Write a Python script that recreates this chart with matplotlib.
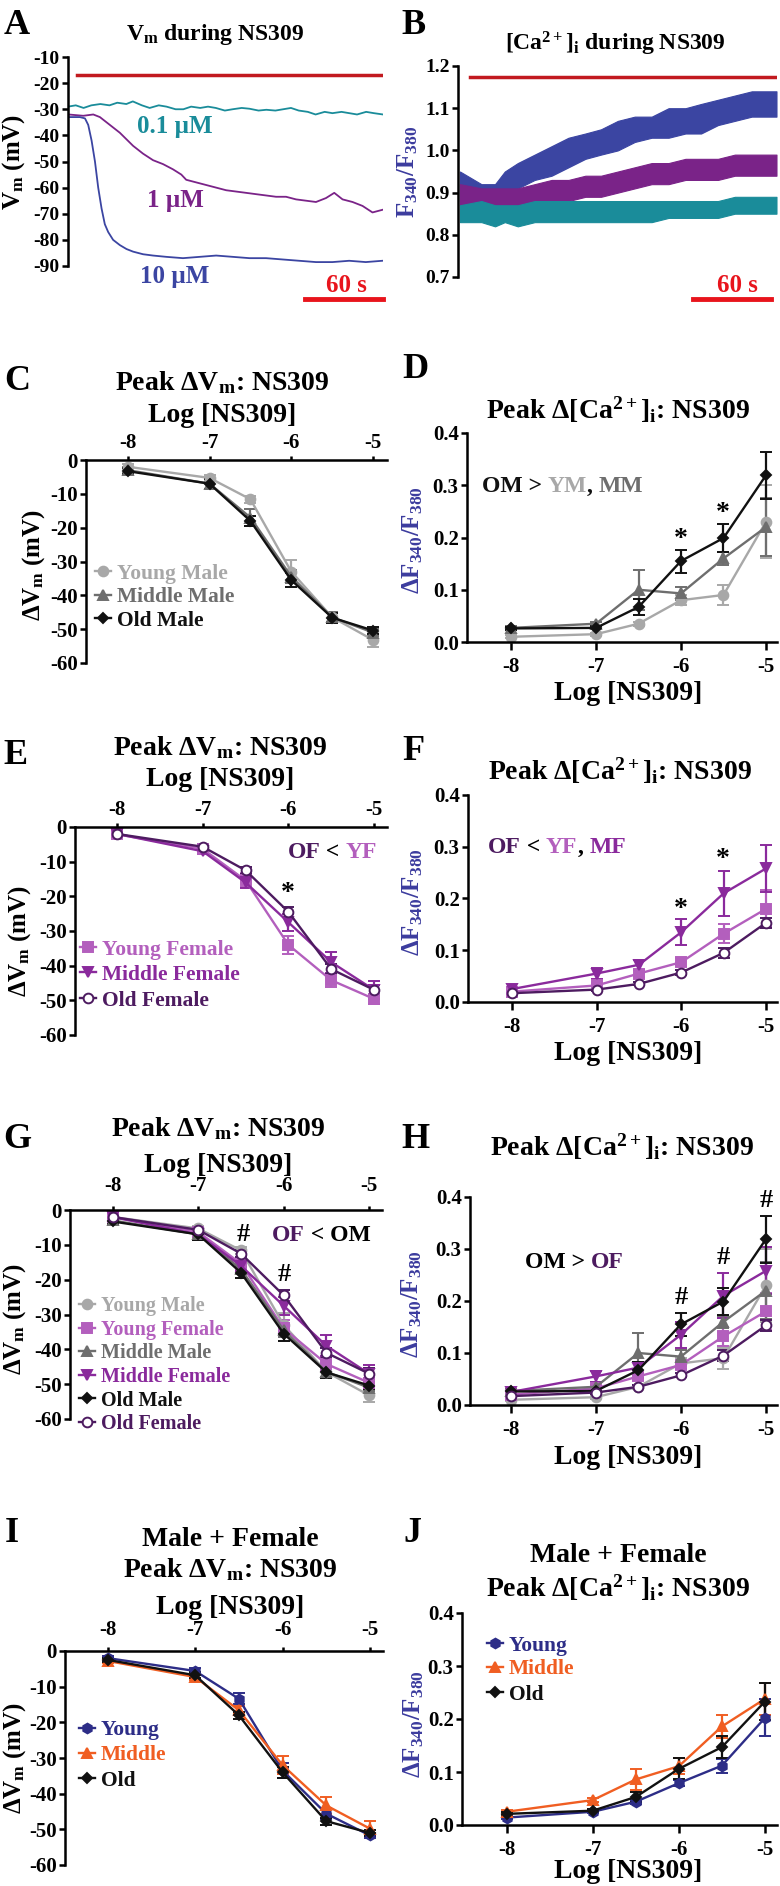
import matplotlib
matplotlib.use("Agg")
import matplotlib.pyplot as plt

W, H = 780, 1886

plt.rcParams.update({
    "font.family": "Liberation Serif",
    "font.weight": "bold",
    "mathtext.fontset": "custom",
    "mathtext.rm": "Liberation Serif:bold",
    "mathtext.it": "Liberation Serif:bold",
    "mathtext.bf": "Liberation Serif:bold",
    "axes.unicode_minus": False,
    "axes.linewidth": 1.8,
})

# ---- colours
TEAL, PURP, BLUE = "#1a8c9a", "#7a2388", "#3b45a2"
DRUG_RED, BAR_RED = "#c21a1f", "#e8141c"
YM_C, MM_C, OM_C = "#a8a8a8", "#6e6e6e", "#111111"
YF_C, MF_C, OF_C = "#b35fbd", "#8a2a9c", "#4d1b60"
Y_C, M_C, O_C = "#2d2d87", "#f05e22", "#111111"
LAB_BLUE = "#3c3c9e"

# ---- A: Vm traces (s, mV)
t_a01 = [0, 6, 12, 18, 25, 32, 38, 45, 50, 57, 63, 70, 76, 83, 89, 95, 102, 108, 114, 121,
         127, 134, 140, 147, 153, 160, 166, 172, 178, 185, 191, 198, 204, 211, 217, 223, 230, 236, 243]
v_a01 = [-29, -28.5, -29.5, -28.5, -28, -28.5, -27.5, -28, -27, -28.5, -29.5, -28.5, -29, -30, -30,
         -29, -29.5, -29, -29.5, -30.5, -30, -29.5, -29.8, -30.5, -30.2, -30.5, -30, -29.5, -30.5, -31,
         -32, -31, -31.5, -31, -31.5, -32, -31, -31.5, -32]
t_a1 = [0.3, 11.8, 19.5, 24.6, 32.3, 40, 45.1, 50.2, 57.9, 65.6, 73.3, 81, 87.4, 91.2, 98.9, 106.6,
        114.3, 122, 129.7, 137.4, 145, 152.8, 160.5, 168.2, 175.9, 183.6, 191.3, 199, 205.4, 211.8,
        219.5, 227.2, 234.9, 242.5]
v_a1 = [-32, -32.5, -32, -33, -36, -39, -41.5, -44, -47, -49.5, -51, -53, -55, -57, -58, -59,
        -60, -61, -61.5, -62, -62.5, -63, -63.5, -63.5, -64.5, -65, -65.5, -64, -62, -64.5,
        -65.5, -67, -69.5, -68.5]
t_a10 = [0.3, 9.2, 13.1, 15.6, 18.2, 20.8, 23.3, 25.9, 28.4, 31, 34.8, 40, 45.1, 50.2, 57.9, 65.6,
         75.9, 88.7, 101.5, 114.3, 127.2, 140, 152.8, 165.6, 178.4, 191.3, 204, 216.9, 229.7, 242.5]
v_a10 = [-33, -33, -33.5, -36, -42, -50, -60, -68, -74, -77, -80, -82, -83.5, -84.5, -85.5, -86,
         -86.5, -87, -86.5, -86, -86.5, -87, -87, -87.5, -88, -88.5, -88.5, -88, -88.5, -88]
drug_start_a, drug_level_a = 7, -17

# ---- B: Fura-2 ratio traces, noise envelope (s, ratio)
t_b = [1.5, 18, 28.5, 36, 46, 59, 72, 85, 98, 110, 123, 136, 149, 162, 175, 187, 200, 213, 226, 245]
b10_lo = [0.88, 0.87, 0.87, 0.89, 0.91, 0.93, 0.94, 0.96, 0.98, 0.99, 1.00, 1.02, 1.03, 1.03, 1.04, 1.04, 1.06, 1.07, 1.08, 1.08]
b10_hi = [0.95, 0.92, 0.92, 0.95, 0.97, 0.99, 1.01, 1.03, 1.04, 1.05, 1.07, 1.08, 1.08, 1.10, 1.10, 1.11, 1.12, 1.13, 1.14, 1.14]
b1_lo = [0.87, 0.86, 0.86, 0.86, 0.86, 0.87, 0.88, 0.88, 0.89, 0.89, 0.90, 0.91, 0.92, 0.92, 0.93, 0.93, 0.93, 0.94, 0.94, 0.94]
b1_hi = [0.92, 0.91, 0.91, 0.91, 0.91, 0.92, 0.93, 0.93, 0.94, 0.94, 0.95, 0.96, 0.97, 0.97, 0.98, 0.98, 0.98, 0.99, 0.99, 0.99]
b01_lo = [0.83, 0.83, 0.82, 0.83, 0.82, 0.83, 0.83, 0.83, 0.83, 0.83, 0.83, 0.83, 0.83, 0.84, 0.84, 0.84, 0.84, 0.85, 0.85, 0.85]
b01_hi = [0.87, 0.88, 0.87, 0.87, 0.87, 0.88, 0.88, 0.88, 0.88, 0.88, 0.88, 0.88, 0.88, 0.88, 0.88, 0.88, 0.88, 0.89, 0.89, 0.89]
drug_start_b, drug_level_b = 9, 1.175
scale_s = 60

# ---- dose-response (log M)
log_dose = [-8, -7, -6.5, -6, -5.5, -5]

ym_vm = [-2, -5.3, -11.6, -33, -46.5, -53.2]; ym_vm_e = [0.8, 0.8, 1, 3.5, 1.5, 2]
mm_vm = [-3, -7, -17, -34.5, -46.5, -51]; mm_vm_e = [0.8, 1.5, 2.5, 2, 1.5, 1]
om_vm = [-3.3, -7, -18, -35.5, -46.6, -50.4]; om_vm_e = [0.8, 1.5, 1.5, 2, 1.5, 1]

yf_vm = [-2.1, -6.3, -15.4, -34, -44.2, -49.6]; yf_vm_e = [0.8, 0.8, 2, 2.5, 2, 1.5]
mf_vm = [-2, -7, -16, -27.5, -39, -47]; mf_vm_e = [0.8, 0.8, 1.5, 2.5, 3, 2.5]
of_vm = [-2, -5.7, -12.5, -24.5, -41, -47]; of_vm_e = [0.8, 0.8, 1, 1.5, 1.5, 1.5]

ym_ca = [0.010, 0.015, 0.035, 0.080, 0.090, 0.230]; ym_ca_e = [0.003, 0.003, 0.004, 0.010, 0.020, 0.070]
mm_ca = [0.027, 0.035, 0.100, 0.093, 0.160, 0.220]; mm_ca_e = [0.003, 0.004, 0.038, 0.012, 0.012, 0.055]
om_ca = [0.026, 0.027, 0.067, 0.155, 0.199, 0.319]; om_ca_e = [0.003, 0.003, 0.015, 0.022, 0.026, 0.045]

yf_ca = [0.020, 0.032, 0.055, 0.077, 0.132, 0.180]; yf_ca_e = [0.003, 0.004, 0.006, 0.008, 0.018, 0.036]
mf_ca = [0.025, 0.055, 0.072, 0.135, 0.210, 0.258]; mf_ca_e = [0.004, 0.010, 0.010, 0.025, 0.043, 0.045]
of_ca = [0.017, 0.024, 0.035, 0.057, 0.095, 0.153]; of_ca_e = [0.002, 0.003, 0.003, 0.004, 0.010, 0.010]

y_vm = [-2, -5.6, -13.4, -33.5, -45.6, -51.7]; y_vm_e = [0.6, 0.8, 1.5, 2, 1.5, 0.8]
m_vm = [-2.8, -7.3, -16.6, -32, -43.3, -49.8]; m_vm_e = [0.6, 0.8, 1.2, 2.5, 2.5, 2.2]
o_vm = [-2.5, -6.8, -18, -34, -47.7, -51]; o_vm_e = [0.6, 0.8, 1, 1.5, 1, 0.8]
y_ca = [0.014, 0.025, 0.044, 0.079, 0.112, 0.202]; y_ca_e = [0.003, 0.003, 0.004, 0.006, 0.013, 0.035]
m_ca = [0.025, 0.047, 0.086, 0.111, 0.186, 0.238]; m_ca_e = [0.003, 0.004, 0.020, 0.015, 0.022, 0.030]
o_ca = [0.021, 0.027, 0.053, 0.106, 0.147, 0.233]; o_ca_e = [0.003, 0.003, 0.010, 0.020, 0.020, 0.035]

dose_ticks = [-8, -7, -6, -5]

# group style: (label, colour, marker, facecolour)
YM = ("Young Male", YM_C, "o", YM_C)
MM = ("Middle Male", MM_C, "^", MM_C)
OM = ("Old Male", OM_C, "D", OM_C)
YF = ("Young Female", YF_C, "s", YF_C)
MF = ("Middle Female", MF_C, "v", MF_C)
OF = ("Old Female", OF_C, "o", "white")
YG = ("Young", Y_C, "h", Y_C)
MG = ("Middle", M_C, "^", M_C)
OG = ("Old", O_C, "D", O_C)

TICK_FS, TITLE_FS, LEG_FS, ANN_FS, YLAB_FS, LET_FS = 15, 20, 15.5, 17, 18, 26

fig = plt.figure(figsize=(W / 100, H / 100), dpi=100)


def px_axes(l, t, r, b):
    return fig.add_axes([l / W, 1 - b / H, (r - l) / W, (b - t) / H])


def series(ax, y, e, grp):
    lab, c, m, fc = grp
    ms = 5 if m == "D" else 7
    ax.errorbar(log_dose, y, yerr=e, color=c, marker=m, ms=ms, mfc=fc, mec=c, mew=1.4,
                lw=1.7, elinewidth=1.6, capsize=4, capthick=1.6, clip_on=False)


def vm_axes(l, t, r, b, xlim, xpad):
    ax = px_axes(l, t, r, b)
    ax.set_xlim(*xlim)
    ax.set_ylim(-60, 0)
    ax.xaxis.tick_top()
    ax.spines[["bottom", "right"]].set_visible(False)
    ax.set_xticks(dose_ticks)
    ax.set_xticklabels([str(v) for v in dose_ticks])
    ax.set_yticks(range(-60, 1, 10))
    ax.set_yticklabels([str(v) for v in range(-60, 1, 10)])
    ax.tick_params(direction="out", length=4, width=1.8, labelsize=TICK_FS, pad=2)
    ax.tick_params(axis="x", length=3, pad=xpad)
    return ax


def ca_axes(l, t, r, b, xlim):
    ax = px_axes(l, t, r, b)
    ax.set_xlim(*xlim)
    ax.set_ylim(0, 0.4)
    ax.spines[["top", "right"]].set_visible(False)
    ax.set_xticks(dose_ticks)
    ax.set_xticklabels([str(v) for v in dose_ticks])
    ax.set_yticks([0, 0.1, 0.2, 0.3, 0.4])
    ax.set_yticklabels(["0.0", "0.1", "0.2", "0.3", "0.4"])
    ax.tick_params(direction="out", length=4, width=1.8, labelsize=TICK_FS, pad=2)
    ax.tick_params(axis="x", length=6, pad=5)
    return ax


# ---------------- A
axA = px_axes(68, 57, 383, 266)
axA.plot(t_a01, v_a01, color=TEAL, lw=1.3)
axA.plot(t_a1, v_a1, color=PURP, lw=1.3)
axA.plot(t_a10, v_a10, color=BLUE, lw=1.3)
axA.plot([drug_start_a, t_a01[-1]], [drug_level_a, drug_level_a], color=DRUG_RED, lw=2.5)
axA.plot([t_a01[-1] - scale_s, t_a01[-1]], [-102.6, -102.6], color=BAR_RED, lw=3.5, clip_on=False)
axA.text(t_a01[-1] - scale_s / 2 + 2, -96.5, "60 s", color=BAR_RED, fontsize=18,
         ha="center", va="center_baseline")
axA.set_xlim(0, 243)
axA.set_ylim(-90, -10)
axA.set_yticks(range(-90, -9, 10))
axA.set_yticklabels([str(v) for v in range(-90, -9, 10)])
axA.set_xticks([])
axA.spines[["top", "right", "bottom"]].set_visible(False)
axA.tick_params(direction="out", length=4, width=1.8, labelsize=14, pad=2)

# ---------------- B
axB = px_axes(458, 66, 777, 277)
axB.fill_between(t_b, b10_lo, b10_hi, color=BLUE, lw=0.8)
axB.fill_between(t_b, b1_lo, b1_hi, color=PURP, lw=0.8)
axB.fill_between(t_b, b01_lo, b01_hi, color=TEAL, lw=0.8)
axB.plot([drug_start_b, t_b[-1]], [drug_level_b, drug_level_b], color=DRUG_RED, lw=2.5)
axB.plot([180.7, 180.7 + scale_s], [0.648, 0.648], color=BAR_RED, lw=3.5, clip_on=False)
axB.text(214.6, 0.685, "60 s", color=BAR_RED, fontsize=18, ha="center", va="center_baseline")
axB.set_xlim(0, 245.4)
axB.set_ylim(0.7, 1.2)
axB.set_yticks([0.7, 0.8, 0.9, 1.0, 1.1, 1.2])
axB.set_yticklabels(["0.7", "0.8", "0.9", "1.0", "1.1", "1.2"])
axB.set_xticks([])
axB.spines[["top", "right", "bottom"]].set_visible(False)
axB.tick_params(direction="out", length=4, width=1.8, labelsize=14, pad=2)

# ---------------- C / D
axC = vm_axes(86, 460, 387, 663, (-8.51, -4.83), 2)
for y, e, g in [(ym_vm, ym_vm_e, YM), (mm_vm, mm_vm_e, MM), (om_vm, om_vm_e, OM)]:
    series(axC, y, e, g)
axD = ca_axes(467, 433, 777, 642, (-8.52, -4.87))
for y, e, g in [(ym_ca, ym_ca_e, YM), (mm_ca, mm_ca_e, MM), (om_ca, om_ca_e, OM)]:
    series(axD, y, e, g)

# ---------------- E / F
axE = vm_axes(75, 827, 387, 1035, (-8.49, -4.85), 2)
for y, e, g in [(yf_vm, yf_vm_e, YF), (mf_vm, mf_vm_e, MF), (of_vm, of_vm_e, OF)]:
    series(axE, y, e, g)
axF = ca_axes(468, 795, 777, 1002, (-8.52, -4.87))
for y, e, g in [(yf_ca, yf_ca_e, YF), (mf_ca, mf_ca_e, MF), (of_ca, of_ca_e, OF)]:
    series(axF, y, e, g)

# ---------------- G / H
axG = vm_axes(70, 1210, 382, 1419, (-8.5, -4.85), 7)
for y, e, g in [(ym_vm, ym_vm_e, YM), (yf_vm, yf_vm_e, YF), (mm_vm, mm_vm_e, MM),
                (mf_vm, mf_vm_e, MF), (om_vm, om_vm_e, OM), (of_vm, of_vm_e, OF)]:
    series(axG, y, e, g)
axH = ca_axes(470, 1197, 777, 1405, (-8.48, -4.87))
for y, e, g in [(ym_ca, ym_ca_e, YM), (yf_ca, yf_ca_e, YF), (mm_ca, mm_ca_e, MM),
                (mf_ca, mf_ca_e, MF), (om_ca, om_ca_e, OM), (of_ca, of_ca_e, OF)]:
    series(axH, y, e, g)

# ---------------- I / J
axI = vm_axes(65, 1651, 383, 1865, (-8.49, -4.85), 5)
for y, e, g in [(y_vm, y_vm_e, YG), (m_vm, m_vm_e, MG), (o_vm, o_vm_e, OG)]:
    series(axI, y, e, g)
axJ = ca_axes(462, 1613, 777, 1825, (-8.52, -4.86))
for y, e, g in [(y_ca, y_ca_e, YG), (m_ca, m_ca_e, MG), (o_ca, o_ca_e, OG)]:
    series(axJ, y, e, g)

# ---------------- overlay for text in pixel coordinates
ov = fig.add_axes([0, 0, 1, 1])
ov.set_xlim(0, W)
ov.set_ylim(H, 0)
ov.axis("off")
rend = fig.canvas.get_renderer()


def txt(x, y, s, size, color="black", ha="center"):
    return ov.text(x, y, s, fontsize=size, color=color, ha=ha, va="center_baseline")


def ylab(x, y, s, color="black"):
    return ov.text(x, y, s, fontsize=YLAB_FS, color=color, ha="center", va="center", rotation=90)


def multi(x, y, parts, size=ANN_FS, ha="left"):
    objs = []
    for s, c in parts:
        objs.append(ov.text(x, y, s, fontsize=size, color=c, ha="left", va="center_baseline"))
    widths = [o.get_window_extent(renderer=rend).width for o in objs]
    if ha == "right":
        x -= sum(widths)
    for o, w in zip(objs, widths):
        o.set_x(x)
        x += w


def legend(x, ys, groups, size=LEG_FS):
    for y, (lab, c, m, fc) in zip(ys, groups):
        ov.plot([x - 8, x + 8], [y, y], color=c, lw=1.7)
        ov.plot([x], [y], marker=m, ms=5 if m == "D" else 7, color=c, mfc=fc, mec=c, mew=1.4)
        ov.text(x + 14, y, lab, fontsize=size, color=c, ha="left", va="center_baseline")


VM_T = "Peak ΔV$_\\mathrm{m}$: NS309"
CA_T = "Peak Δ[Ca$^{2+}$]$_\\mathrm{i}$: NS309"
LOG_L = "Log [NS309]"
VM_Y = "ΔV$_\\mathrm{m}$ (mV)"
CA_Y = "ΔF$_{340}$/F$_{380}$"

# panel letters
for s, x, y in [("A", 17, 21), ("B", 413, 21), ("C", 17, 378), ("D", 415, 366), ("E", 16, 751),
                ("F", 413, 748), ("G", 17, 1136), ("H", 415, 1136), ("I", 12, 1530), ("J", 412, 1530)]:
    txt(x, y, s, LET_FS)

# A / B
txt(215, 31, "V$_\\mathrm{m}$ during NS309", 17)
txt(615, 40, "[Ca$^{2+}$]$_\\mathrm{i}$ during NS309", 17)
ylab(14, 162, "V$_\\mathrm{m}$ (mV)")
ylab(408, 172, "F$_{340}$/F$_{380}$", LAB_BLUE)
txt(175, 124, "0.1 µM", 18, color=TEAL)
txt(175, 198, "1 µM", 18, color=PURP)
txt(175, 274, "10 µM", 18, color=BLUE)

# C
txt(222, 380, VM_T, TITLE_FS)
txt(222, 412, LOG_L, TITLE_FS)
ylab(34, 565, VM_Y)
legend(103, [571, 595, 618], [YM, MM, OM])
# D
txt(618, 407, CA_T, TITLE_FS)
txt(628, 690, LOG_L, TITLE_FS)
ylab(413, 540, CA_Y, LAB_BLUE)
multi(482, 484, [("OM > ", OM_C), ("YM", YM_C), (", ", OM_C), ("MM", MM_C)])
txt(681, 536, "*", 20)
txt(723, 510, "*", 20)

# E
txt(220, 745, VM_T, TITLE_FS)
txt(220, 777, LOG_L, TITLE_FS)
ylab(20, 941, VM_Y)
legend(88, [947, 972, 998], [YF, MF, OF])
multi(377, 850, [("OF", OF_C), (" < ", "black"), ("YF", YF_C)], ha="right")
txt(288, 891, "*", 20)
# F
txt(620, 768, CA_T, TITLE_FS)
txt(628, 1051, LOG_L, TITLE_FS)
ylab(413, 902, CA_Y, LAB_BLUE)
multi(488, 845, [("OF", OF_C), (" < ", "black"), ("YF", YF_C), (", ", "black"), ("MF", MF_C)])
txt(681, 906, "*", 20)
txt(723, 856, "*", 20)

# G
txt(218, 1126, VM_T, TITLE_FS)
txt(218, 1162, LOG_L, TITLE_FS)
ylab(15, 1319, VM_Y)
legend(87, [1304, 1327.5, 1351, 1374.5, 1398, 1421.5], [YM, YF, MM, MF, OM, OF], size=14.5)
multi(272, 1233, [("OF", OF_C), (" < OM", "black")])
txt(243, 1232, "#", 19)
txt(284, 1272, "#", 19)
# H
txt(622, 1144, CA_T, TITLE_FS)
txt(628, 1454, LOG_L, TITLE_FS)
ylab(412, 1304, CA_Y, LAB_BLUE)
multi(525, 1260, [("OM > ", "black"), ("OF", OF_C)])
txt(681, 1295, "#", 19)
txt(723, 1255, "#", 19)
txt(766, 1198, "#", 19)

# I
txt(230, 1537, "Male + Female", TITLE_FS)
txt(230, 1567, VM_T, TITLE_FS)
txt(230, 1604, LOG_L, TITLE_FS)
ylab(15, 1758, VM_Y)
legend(87, [1728, 1753, 1778], [YG, MG, OG])
# J
txt(618, 1552, "Male + Female", TITLE_FS)
txt(618, 1585, CA_T, TITLE_FS)
txt(628, 1868, LOG_L, TITLE_FS)
ylab(414, 1724, CA_Y, LAB_BLUE)
legend(495, [1643, 1667, 1692], [YG, MG, OG])

fig.savefig("out.png", dpi=100)
